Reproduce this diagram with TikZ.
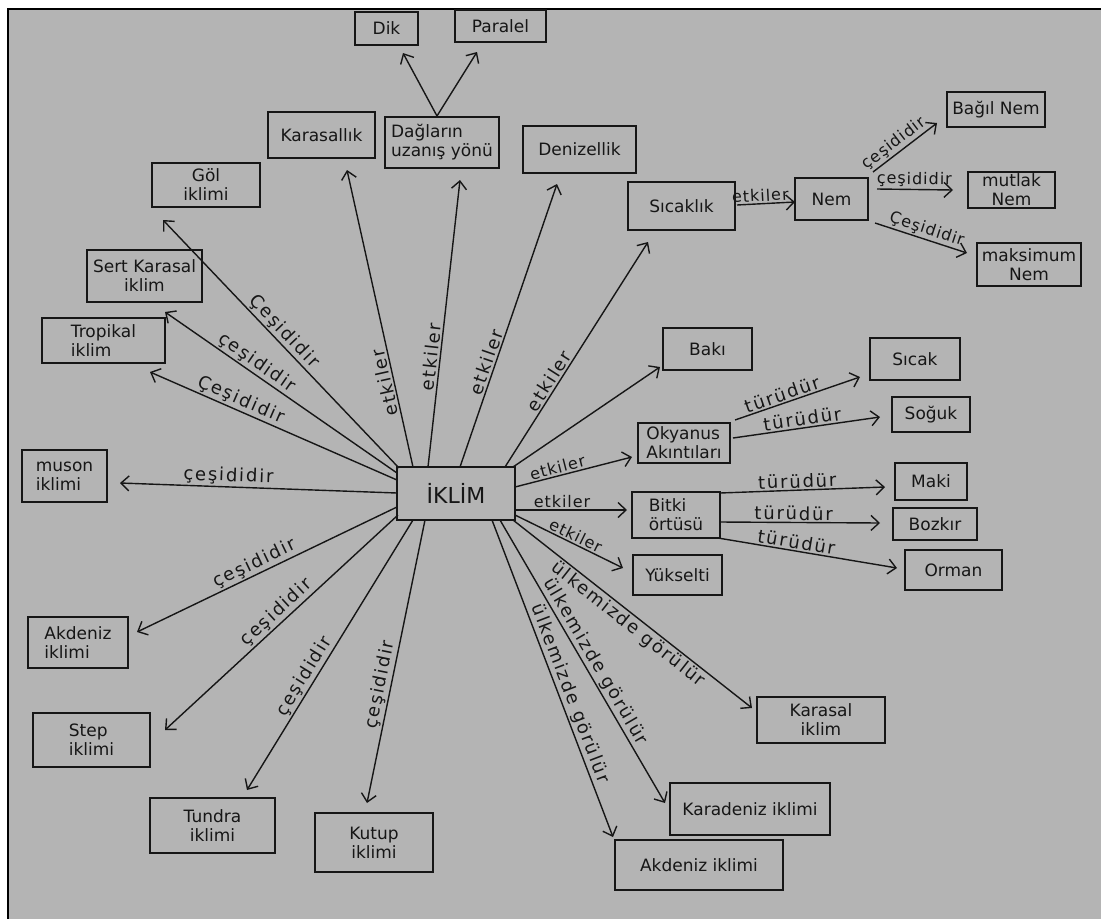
\documentclass[tikz,border=0pt]{standalone}
\usepackage{fontspec}
\setmainfont{DejaVu Sans}
\usetikzlibrary{arrows.meta}
\definecolor{paper}{RGB}{180,180,180}
\definecolor{ink}{RGB}{22,22,22}
\begin{document}
\begin{tikzpicture}[x=1pt,y=-1pt,
  box/.style={draw=ink, line width=1.8pt, inner sep=2pt, align=center, text=ink,
    font=\fontsize{17}{19}\selectfont},
  lbox/.style={box, align=left},
  link/.style={draw=ink, line width=1.4pt, -{Straight Barb[length=8pt,width=15pt]}},
  lbl/.style={font=\fontsize{18}{20}\selectfont\addfontfeature{LetterSpace=10}, text=ink,
    sloped, above, inner sep=1.5pt},
  lbls/.style={lbl, font=\fontsize{16}{18}\selectfont\addfontfeature{LetterSpace=6}},
  lblb/.style={lbl, below},
]
\useasboundingbox (0,0) rectangle (1101,919);
% sheet and frame
\fill[white] (0,0) rectangle (1101,919);
\fill[paper] (8.5,9) rectangle (1101,919);
\draw[black, line width=2pt] (7.5,9) -- (1101,9);
\draw[black, line width=1.7pt] (8.3,8) -- (8.3,919);

% centre
\node[box, minimum width=118pt, minimum height=53pt, font=\fontsize{22}{24}\selectfont] (iklim) at (456,493.5) {İKLİM};

% upper factors
\node[box, minimum width=63pt, minimum height=33pt] (dik) at (386.5,28.5) {Dik};
\node[box, minimum width=91pt, minimum height=32pt] (paralel) at (500.5,26) {Paralel};
\node[box, minimum width=107pt, minimum height=46pt] (karasallik) at (321.5,135) {Karasallık};
\node[lbox, minimum width=114pt, minimum height=51pt] (daglar) at (442,142.5) {Dağların\\uzanış yönü};
\node[box, minimum width=113pt, minimum height=47pt] (denizellik) at (579.5,149.5) {Denizellik};
\node[box, minimum width=107pt, minimum height=48pt] (sicaklik) at (681.5,206) {Sıcaklık};
\node[box, minimum width=73pt, minimum height=42pt] (nem) at (831.5,199) {Nem};
\node[box, minimum width=98pt, minimum height=35pt] (bagil) at (996,109.5) {Bağıl Nem};
\node[box, minimum width=87pt, minimum height=36pt] (mutlak) at (1011.5,190) {mutlak\\Nem};
\node[box, minimum width=104pt, minimum height=43pt] (maksimum) at (1029,264.5) {maksimum\\Nem};

% climate types on the left
\node[box, minimum width=108pt, minimum height=44pt] (gol) at (206,185) {Göl\\iklimi};
\node[box, minimum width=115pt, minimum height=52pt] (sert) at (144.5,276) {Sert Karasal\\iklim};
\node[lbox, minimum width=123pt, minimum height=45pt] (tropikal) at (103.5,340.5) {Tropikal\\iklim};
\node[lbox, minimum width=85pt, minimum height=52pt] (muson) at (64.5,476) {muson\\iklimi};
\node[lbox, minimum width=100pt, minimum height=51pt] (akdenizL) at (78,642.5) {Akdeniz\\iklimi};
\node[lbox, minimum width=117pt, minimum height=54pt] (step) at (91.5,740) {Step\\iklimi};
\node[box, minimum width=125pt, minimum height=55pt] (tundra) at (212.5,825.5) {Tundra\\iklimi};
\node[box, minimum width=118pt, minimum height=59pt] (kutup) at (374,842.5) {Kutup\\iklimi};

% factors on the right
\node[box, minimum width=89pt, minimum height=42pt] (baki) at (707.5,349) {Bakı};
\node[lbox, minimum width=92pt, minimum height=40pt] (okyanus) at (684,443) {Okyanus\\Akıntıları};
\node[box, minimum width=90pt, minimum height=42pt] (sicak) at (915,359) {Sıcak};
\node[box, minimum width=78pt, minimum height=35pt] (soguk) at (931,414.5) {Soğuk};
\node[lbox, minimum width=88pt, minimum height=46pt] (bitki) at (676,515) {Bitki\\örtüsü};
\node[box, minimum width=72pt, minimum height=37pt] (maki) at (931,481.5) {Maki};
\node[box, minimum width=84pt, minimum height=32pt] (bozkir) at (935,524) {Bozkır};
\node[box, minimum width=97pt, minimum height=40pt] (orman) at (953.5,570) {Orman};
\node[box, minimum width=89pt, minimum height=40pt] (yukselti) at (677.5,575) {Yükselti};

% climates seen in the country
\node[box, minimum width=128pt, minimum height=46pt] (karasalR) at (821,720) {Karasal\\iklim};
\node[box, minimum width=160pt, minimum height=52pt] (karadeniz) at (750,809) {Karadeniz iklimi};
\node[box, minimum width=168pt, minimum height=50pt] (akdenizR) at (699,865) {Akdeniz iklimi};

% etkiler (upward)
\draw[link] ([xshift=-43pt,yshift=26.5pt]iklim.center) -- node[lbl, pos=0.29, allow upside down] {etkiler} ([xshift=25.5pt,yshift=-35pt]karasallik.center);
\draw[link] ([xshift=-28pt,yshift=26.5pt]iklim.center) -- node[lbl, pos=0.38] {etkiler} ([xshift=18pt,yshift=-37.5pt]daglar.center);
\draw[link] ([xshift=4pt,yshift=26.5pt]iklim.center) -- node[lbl, pos=0.36] {etkiler} ([xshift=-22.5pt,yshift=-34.5pt]denizellik.center);
\draw[link] ([xshift=49pt,yshift=26.5pt]iklim.center) -- node[lbl, pos=0.36] {etkiler} ([xshift=-33.5pt,yshift=-36pt]sicaklik.center);
\draw[link] ([xshift=-5pt,yshift=26.5pt]daglar.center) -- ([xshift=16.5pt,yshift=-24.5pt]dik.center);
\draw[link] ([xshift=-5pt,yshift=26.5pt]daglar.center) -- ([xshift=-23.5pt,yshift=-26pt]paralel.center);

% humidity branch
\draw[link] ([xshift=55.5pt,yshift=1pt]sicaklik.center) -- node[lbls, pos=0.41] {etkiler} ([xshift=-36.5pt,yshift=-3pt]nem.center);
\draw[link] ([xshift=41.5pt,yshift=27pt]nem.center) -- node[lbls, pos=0.42] {çeşididir} ([xshift=-59pt,yshift=-13.5pt]bagil.center);
\draw[link] ([xshift=45.5pt,yshift=10pt]nem.center) -- node[lbls, pos=0.49] {çeşididir} ([xshift=-58.5pt,yshift=0pt]mutlak.center);
\draw[link] ([xshift=43.5pt,yshift=-24pt]nem.center) -- node[lbls, pos=0.53] {Çeşididir} ([xshift=-62pt,yshift=11.5pt]maksimum.center);

% climate types
\draw[link] ([xshift=-57pt,yshift=25.5pt]iklim.center) -- node[lbl, pos=0.52] {Çeşididir} ([xshift=-43pt,yshift=-35pt]gol.center);
\draw[link] ([xshift=-59pt,yshift=20.5pt]iklim.center) -- node[lbl, pos=0.63] {çeşididir} ([xshift=20.5pt,yshift=-36pt]sert.center);
\draw[link] ([xshift=-59pt,yshift=13.5pt]iklim.center) -- node[lbl, pos=0.65] {Çeşididir} ([xshift=46.5pt,yshift=-31.5pt]tropikal.center);
\draw[link] ([xshift=-59pt,yshift=0.5pt]iklim.center) -- node[lbl, pos=0.61] {çeşididir} ([xshift=55.5pt,yshift=-7pt]muson.center);
\draw[link] ([xshift=-59pt,yshift=-13.5pt]iklim.center) -- node[lbl, pos=0.53] {çeşididir} ([xshift=59pt,yshift=10.5pt]akdenizL.center);
\draw[link] ([xshift=-58pt,yshift=-21.5pt]iklim.center) -- node[lbl, pos=0.49] {çeşididir} ([xshift=73.5pt,yshift=10pt]step.center);
\draw[link] ([xshift=-43pt,yshift=-26.5pt]iklim.center) -- node[lbl, pos=0.60] {çeşididir} ([xshift=34.5pt,yshift=35.5pt]tundra.center);
\draw[link] ([xshift=-31pt,yshift=-26.5pt]iklim.center) -- node[lbl, pos=0.59] {çeşididir} ([xshift=-7pt,yshift=39.5pt]kutup.center);

% factors on the right
\draw[link] ([xshift=57pt,yshift=26.5pt]iklim.center) -- ([xshift=-47.5pt,yshift=-18pt]baki.center);
\draw[link] ([xshift=59pt,yshift=6.5pt]iklim.center) -- node[lbls, pos=0.38] {etkiler} ([xshift=-52pt,yshift=-14pt]okyanus.center);
\draw[link] ([xshift=59pt,yshift=-16.5pt]iklim.center) -- node[lbls, pos=0.42] {etkiler} ([xshift=-49pt,yshift=5pt]bitki.center);
\draw[link] ([xshift=59pt,yshift=-21.5pt]iklim.center) -- node[lbls, pos=0.53] {etkiler} ([xshift=-54.5pt,yshift=7pt]yukselti.center);
\draw[link] ([xshift=51pt,yshift=23pt]okyanus.center) -- node[lbl, pos=0.40] {türüdür} ([xshift=-55pt,yshift=-18pt]sicak.center);
\draw[link] ([xshift=49pt,yshift=5pt]okyanus.center) -- node[lbl, pos=0.48] {türüdür} ([xshift=-51pt,yshift=-2.5pt]soguk.center);
\draw[link] ([xshift=44pt,yshift=22pt]bitki.center) -- node[lbl, pos=0.47] {türüdür} ([xshift=-46pt,yshift=-5.5pt]maki.center);
\draw[link] ([xshift=44pt,yshift=-7pt]bitki.center) -- node[lbl, pos=0.46] {türüdür} ([xshift=-55pt,yshift=1pt]bozkir.center);
\draw[link] ([xshift=42pt,yshift=-23pt]bitki.center) -- node[lbl, pos=0.43] {türüdür} ([xshift=-56.5pt,yshift=2pt]orman.center);

% climates of the country
\draw[link] ([xshift=57pt,yshift=-26.5pt]iklim.center) -- node[lblb, pos=0.51] {ülkemizde görülür} ([xshift=-69pt,yshift=12pt]karasalR.center);
\draw[link] ([xshift=44pt,yshift=-26.5pt]iklim.center) -- node[lbl, pos=0.52] {ülkemizde görülür} ([xshift=-85pt,yshift=6pt]karadeniz.center);
\draw[link] ([xshift=36pt,yshift=-26.5pt]iklim.center) -- node[lbl, pos=0.56] {ülkemizde görülür} ([xshift=-86pt,yshift=28pt]akdenizR.center);
\end{tikzpicture}
\end{document}
